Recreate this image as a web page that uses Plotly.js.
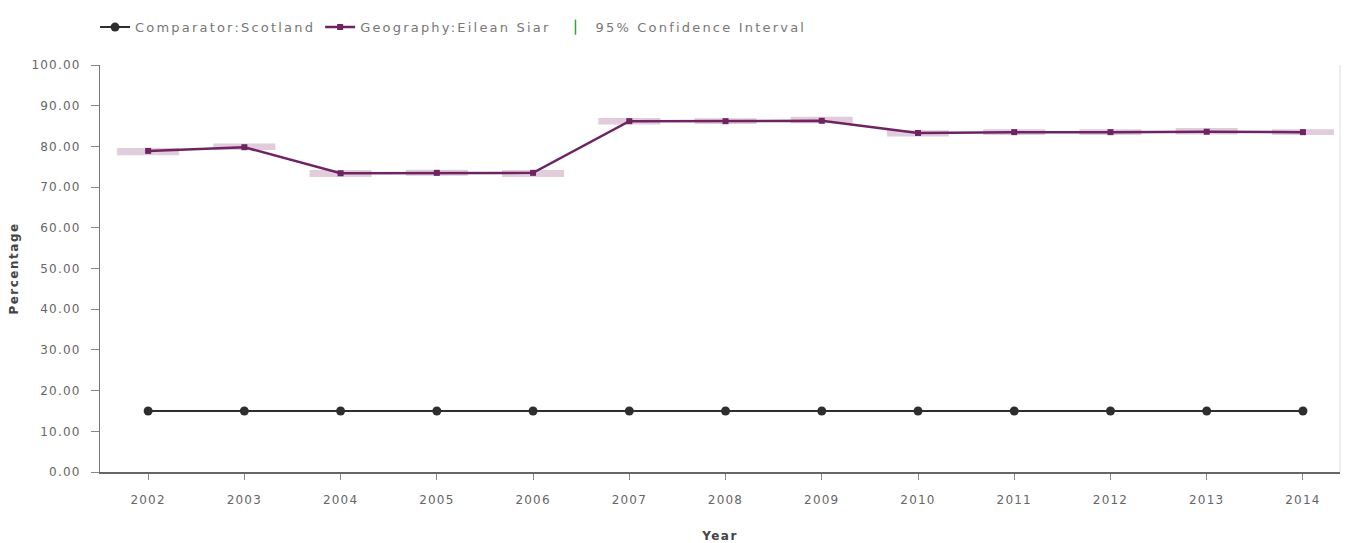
<!DOCTYPE html>
<html>
<head>
<meta charset="utf-8">
<script src="https://cdn.plot.ly/plotly-3.0.1.min.js"></script>
<style>
html,body{margin:0;padding:0;background:#fff;}
#chart{width:1358px;height:543px;}
text.legendtext{letter-spacing:2.2px;}
.xtick text,.ytick text{letter-spacing:1.2px;}
text.xtitle,text.ytitle{letter-spacing:1.5px;}
</style>
</head>
<body>
<div id="chart"></div>
<script>
var years = [2002, 2003, 2004, 2005, 2006, 2007, 2008, 2009, 2010, 2011, 2012, 2013, 2014];
var scotland = [15.0, 15.0, 15.0, 15.0, 15.0, 15.0, 15.0, 15.0, 15.0, 15.0, 15.0, 15.0, 15.0];
var eileanSiar = [78.9, 79.8, 73.4, 73.5, 73.5, 86.2, 86.2, 86.3, 83.3, 83.5, 83.5, 83.6, 83.5];
var ciUpper = [79.1, 80.2, 73.7, 73.8, 73.7, 86.5, 86.4, 86.8, 83.5, 83.7, 83.7, 84.0, 83.7];
var ciLower = [78.3, 79.6, 73.0, 73.3, 73.0, 85.9, 86.0, 86.2, 82.9, 83.3, 83.3, 83.4, 83.3];
var yTicks = [0, 10, 20, 30, 40, 50, 60, 70, 80, 90, 100];
var yTickLabels = ['0.00', '10.00', '20.00', '30.00', '40.00', '50.00', '60.00', '70.00', '80.00', '90.00', '100.00'];

var errPlus = eileanSiar.map(function(v, i){ return ciUpper[i] - v; });
var errMinus = eileanSiar.map(function(v, i){ return v - ciLower[i]; });

var fam = 'DejaVu Sans, Verdana, sans-serif';
var tickFont = {family: fam, size: 12, color: '#666'};

var traces = [
  {
    x: years, y: scotland, name: 'Comparator:Scotland', type: 'scatter', mode: 'lines+markers',
    line: {color: '#2e2e2e', width: 2},
    marker: {symbol: 'circle', size: 9, color: '#2e2e2e'}
  },
  {
    x: years, y: eileanSiar, name: 'Geography:Eilean Siar', type: 'scatter', mode: 'lines+markers',
    line: {color: '#6e2363', width: 2.5},
    marker: {symbol: 'square', size: 6, color: '#6e2363'},
    error_y: {type: 'data', symmetric: false, array: errPlus, arrayminus: errMinus,
      color: 'rgba(205,170,195,0.6)', thickness: 4, width: 31}
  },
  {
    x: [null], y: [null], name: '95% Confidence Interval', type: 'scatter', mode: 'markers',
    marker: {symbol: 'line-ns-open', size: 11, color: '#3aa03a', line: {color: '#3aa03a', width: 1.5}}
  }
];

var layout = {
  width: 1358, height: 543,
  margin: {l: 100, r: 18, t: 65, b: 71},
  paper_bgcolor: '#fff', plot_bgcolor: '#fff',
  font: tickFont,
  showlegend: true,
  legend: {orientation: 'h', x: -0.004, xanchor: 'left', y: 1.093, yanchor: 'middle',
    font: {family: fam, size: 13, color: '#777'}, itemwidth: 30,
    bgcolor: 'rgba(0,0,0,0)'},
  xaxis: {
    range: [2001.5, 2014.385], tickvals: years, ticktext: years.map(String),
    showgrid: false, zeroline: false, showline: true, linecolor: '#666', linewidth: 2,
    ticks: 'outside', ticklen: 6, tickcolor: '#888', ticklabelstandoff: 10,
    tickfont: tickFont,
    title: {text: 'Year', font: {family: fam, size: 12, color: '#444', weight: 'bold'}, standoff: 25}
  },
  yaxis: {
    range: [0, 100], tickvals: yTicks, ticktext: yTickLabels,
    showgrid: false, zeroline: false, showline: true, linecolor: '#777', linewidth: 1,
    ticks: 'outside', ticklen: 8, tickcolor: '#888', ticklabelstandoff: 8,
    tickfont: tickFont,
    title: {text: 'Percentage', font: {family: fam, size: 12, color: '#444', weight: 'bold'}, standoff: 10}
  },
  shapes: [
    {type: 'line', xref: 'paper', yref: 'paper', x0: 1, x1: 1, y0: 0, y1: 1, line: {color: '#ddd', width: 1}}
  ]
};

Plotly.newPlot('chart', traces, layout, {displayModeBar: false, staticPlot: true});
</script>
</body>
</html>
